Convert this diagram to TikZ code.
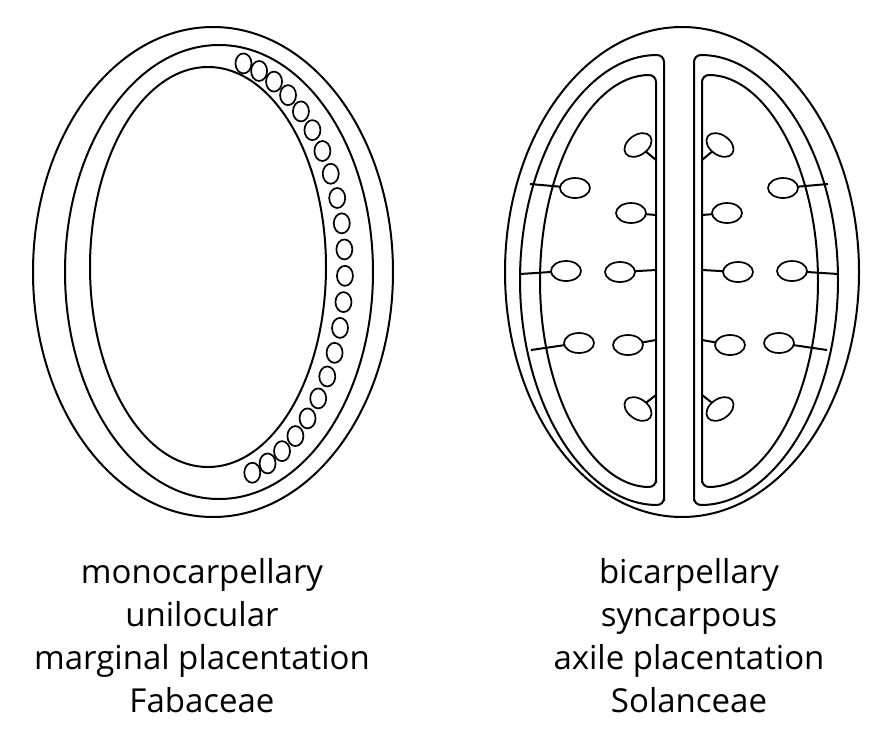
\documentclass[tikz,border=0pt]{standalone}
\usepackage{fontspec}
\setmainfont{Open Sans}
\usetikzlibrary{positioning}

\tikzset{
  wall/.style={draw,line width=2pt},
  ovule/.style={draw,line width=1.7pt,fill=white},
  caption/.style={align=center,font=\fontsize{33}{43}\selectfont}
}

% one locule of the bicarpellary ovary (left half)
\newcommand\locule{
  \draw[wall,rounded corners=7pt] (664,505) -- (664,55) arc[start angle=270,end angle=90,x radius=144,y radius=225] -- cycle;
  \draw[wall,rounded corners=7pt] (656,487) -- (656,75) arc[start angle=270,end angle=90,x radius=116,y radius=206] -- cycle;
  % ovules on the placenta
  \foreach \ox/\oy/\sy/\rot in {638/145/160/35, 631/213/215/0, 620/272/270/0, 628/345/340/0, 638/409/395/-35}{
    \draw[wall] (\ox,\oy) -- (656,\sy);
    \draw[ovule,rotate around={\rot:(\ox,\oy)}] (\ox,\oy) ellipse[x radius=15,y radius=10];
  }
  % ovules tied to the wall
  \foreach \ox/\oy/\wx/\wy in {575/188/530/184, 566/271/520/274, 579/343/531/350}{
    \draw[wall] (\ox,\oy) -- (\wx,\wy);
    \draw[ovule] (\ox,\oy) ellipse[x radius=15,y radius=10];
  }
}

\begin{document}
\begin{tikzpicture}[x=1pt,y=-1pt]
  \useasboundingbox (0,0) rectangle (881,739);

  % monocarpellary ovary
  \draw[wall] (213,272) ellipse[x radius=180,y radius=245];
  \draw[wall] (219,272) ellipse[x radius=154,y radius=227];
  \draw[wall] (208,267) ellipse[x radius=118,y radius=200];
  \foreach \i in {0,...,21}{
    \pgfmathsetmacro\ang{77-\i*150/21}
    \draw[ovule] ({214+131*cos(\ang)},{270-212*sin(\ang)}) ellipse[x radius=8,y radius=10];
  }

  % bicarpellary ovary
  \draw[wall] (682,272) ellipse[x radius=177,y radius=245];
  \locule
  \begin{scope}[xshift=1358pt,xscale=-1]
    \locule
  \end{scope}

  \node[caption] (monoText) at (202,636) {monocarpellary\\unilocular\\marginal placentation\\Fabaceae};
  \node[caption] (biText) at (689,636) {bicarpellary\\syncarpous\\axile placentation\\Solanceae};
\end{tikzpicture}
\end{document}
